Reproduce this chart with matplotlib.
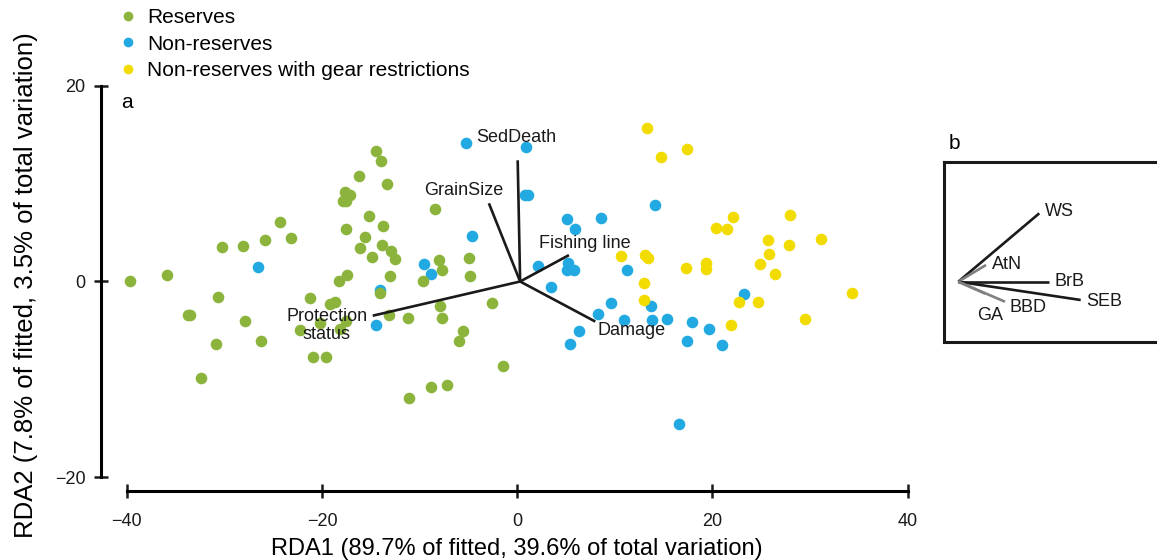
import matplotlib
matplotlib.use("Agg")
import matplotlib.pyplot as plt
from matplotlib.lines import Line2D

plt.rcParams['font.family'] = ['Liberation Sans', 'DejaVu Sans']

# ---------------- data ----------------
reserves_x = [-39.7, -35.9, -30.2, -28.1, -25.8, -24.3, -23.2, -30.6, -33.7, -33.5,
              -27.9, -30.9, -26.2, -32.4, -17.6, -17.1, -17.8, -17.5, -17.5, -18.3,
              -17.4, -21.2, -19.2, -18.7, -20.2, -22.2, -18.1, -20.9, -19.6, -14.5,
              -14.0, -16.2, -13.3, -8.4, -15.2, -13.7, -15.6, -13.9, -16.1, -12.9,
              -12.5, -14.9, -4.9, -4.8, -8.0, -7.7, -9.6, -13.0, -14.1, -13.1,
              -11.2, -7.9, -7.7, -2.6, -5.6, -6.0, -1.5, -8.8, -7.2, -11.1, -17.5]
reserves_y = [0.0, 0.7, 3.5, 3.6, 4.2, 6.1, 4.5, -1.6, -3.4, -3.4,
              -4.0, -6.4, -6.1, -9.9, 9.2, 8.8, 8.2, 8.2, 5.4, 0.0,
              0.7, -1.7, -2.3, -2.1, -4.2, -5.0, -4.9, -7.7, -7.7, 13.4,
              12.3, 10.8, 10.0, 7.4, 6.7, 5.7, 4.6, 3.7, 3.4, 3.1,
              2.3, 2.5, 2.4, 0.6, 2.2, 1.2, 0.1, 0.6, -1.2, -3.4,
              -3.7, -2.5, -3.7, -2.2, -5.1, -6.1, -8.6, -10.8, -10.6, -11.9, -4.0]

nonres_x = [-26.6, -5.2, 0.9, 0.8, 1.1, -4.6, -9.5, -8.8, -14.1, -14.5,
            5.1, 8.6, 5.9, 2.1, 5.2, 5.1, 5.8, 3.5, 11.2, 13.7,
            9.6, 8.3, 10.9, 13.8, 15.3, 6.3, 5.4, 17.4, 16.6, 14.1,
            23.2, 17.9, 19.6, 21.0]
nonres_y = [1.5, 14.2, 13.8, 8.8, 8.8, 4.7, 1.8, 0.8, -0.9, -4.5,
            6.4, 6.5, 5.4, 1.6, 1.9, 1.2, 1.2, -0.6, 1.2, -2.5,
            -2.2, -3.3, -3.9, -3.9, -3.8, -5.1, -6.4, -6.1, -14.6, 7.8,
            -1.3, -4.1, -4.9, -6.5]

gear_x = [13.3, 14.7, 17.4, 10.6, 13.1, 13.4, 13.0, 13.0, 17.3, 19.3,
          19.3, 20.4, 21.5, 22.1, 27.9, 25.7, 27.8, 31.1, 25.8, 24.9,
          26.4, 34.3, 22.7, 24.7, 29.5, 21.9]
gear_y = [15.7, 12.7, 13.6, 2.6, 2.7, 2.4, -0.2, -1.9, 1.35, 1.9,
          1.25, 5.5, 5.4, 6.6, 6.8, 4.2, 3.7, 4.3, 2.8, 1.8,
          0.8, -1.2, -2.1, -2.1, -3.8, -4.5]

# explanatory variables (panel a)
env_names = ["SedDeath", "GrainSize", "Fishing line", "Damage", "Protection\nstatus"]
env_x = [0.05, -2.9, 5.3, 8.0, -14.8]
env_y = [12.4, 8.0, 2.7, -4.1, -3.5]
env_lab_x = [-4.2, -9.55, 2.2, 8.2, -19.5]
env_lab_y = [14.75, 9.36, 3.84, -5.03, -4.5]
env_lab_ha = ["left", "left", "left", "left", "center"]
biplot_origin = (0.3, 0.0)

# species vectors (panel b)
sp_names = ["WS", "AtN", "BrB", "SEB", "BBD", "GA"]
sp_x = [8.1, 2.77, 9.07, 12.24, 4.67, 2.7]
sp_y = [6.84, 1.67, 0.0, -1.83, -2.0, -1.2]
sp_lab_x = [8.67, 3.34, 9.67, 12.84, 5.1, 1.84]
sp_lab_y = [7.07, 1.74, 0.0, -2.0, -2.6, -3.33]
sp_color = ["#1a1a1a", "#808080", "#1a1a1a", "#1a1a1a", "#808080", "#808080"]

groups = ["Reserves", "Non-reserves", "Non-reserves with gear restrictions"]
colors = ["#8cb43c", "#23a9e1", "#f2dc00"]

xticks = [-40, -20, 0, 20, 40]
yticks = [-20, 0, 20]
xlabel = "RDA1 (89.7% of fitted, 39.6% of total variation)"
ylabel = "RDA2 (7.8% of fitted, 3.5% of total variation)"

# ---------------- figure ----------------
W, H = 1157, 560
fig = plt.figure(figsize=(W / 100, H / 100), dpi=100)

left_px, right_px, top_px, bot_px = 101, 912, 80, 490.7
ax = fig.add_axes([left_px / W, (H - bot_px) / H, (right_px - left_px) / W, (bot_px - top_px) / H])
ux, x0 = 9.7625, 517.2
uy, y0 = 9.775, 281.5
ax.set_xlim((left_px - x0) / ux, (right_px - x0) / ux)
ax.set_ylim((y0 - bot_px) / uy, (y0 - top_px) / uy)

ax.scatter(nonres_x, nonres_y, s=70, color=colors[1], linewidths=0, zorder=2)
ax.scatter(gear_x, gear_y, s=70, color=colors[2], linewidths=0, zorder=2)
ax.scatter(reserves_x, reserves_y, s=70, color=colors[0], linewidths=0, zorder=2)

ox, oy = biplot_origin
for ex, ey in zip(env_x, env_y):
    ax.plot([ox, ex], [oy, ey], color="#1a1a1a", lw=1.9, solid_capstyle="butt", zorder=3)
for name, lx, ly, ha in zip(env_names, env_lab_x, env_lab_y, env_lab_ha):
    ax.text(lx, ly, name, ha=ha, va="center", fontsize=13, color="#1a1a1a",
            multialignment="center", linespacing=1.1, zorder=4)

for side in ["top", "right"]:
    ax.spines[side].set_visible(False)
ax.spines["bottom"].set_bounds(-40, 40)
ax.spines["left"].set_bounds(-20, 20)
ax.spines["bottom"].set_linewidth(2.2)
ax.spines["left"].set_linewidth(2.2)
ax.set_xticks(xticks)
ax.set_yticks(yticks)
ax.tick_params(axis="both", direction="inout", length=10, width=1.8, labelsize=13, colors="#1a1a1a")
ax.tick_params(axis="x", pad=11)
ax.tick_params(axis="y", pad=6)
ax.set_xlabel(xlabel, fontsize=17)
ax.xaxis.set_label_coords((x0 - left_px) / (right_px - left_px), -(538 - bot_px) / (bot_px - top_px))
ax.set_ylabel(ylabel, fontsize=18.5, labelpad=12)
ax.patch.set_visible(False)

ax.text(-40.6, 18.3, "a", fontsize=15, ha="left", va="center")

# legend
handles = [Line2D([], [], marker="o", linestyle="none", markersize=7,
                  markerfacecolor=c, markeredgewidth=0) for c in colors]
fig.legend(handles, groups, loc="upper left", bbox_to_anchor=(117.6 / W, 1 - 8 / H),
           frameon=False, fontsize=15, handlelength=1.0, handletextpad=0.4,
           labelspacing=0.36, borderpad=0, borderaxespad=0)

# inset b
in_l, in_r, in_t, in_b = 944, 1170, 162, 342
axb = fig.add_axes([in_l / W, (H - in_b) / H, (in_r - in_l) / W, (in_b - in_t) / H])
bo_x, bo_y = 958.3, 281.7
axb.set_xlim((in_l - bo_x) / 10, (in_r - bo_x) / 10)
axb.set_ylim((bo_y - in_b) / 10, (bo_y - in_t) / 10)
for name, vx, vy, c, lx, ly in zip(sp_names, sp_x, sp_y, sp_color, sp_lab_x, sp_lab_y):
    axb.plot([0, vx], [0, vy], color=c, lw=1.9, solid_capstyle="butt")
    axb.text(lx, ly, name, fontsize=13, ha="left", va="center", color="#1a1a1a")
axb.set_xticks([])
axb.set_yticks([])
for s in axb.spines.values():
    s.set_linewidth(2.2)
    s.set_color("#1a1a1a")
fig.text(948.3 / W, 1 - 143.3 / H, "b", fontsize=15, ha="left", va="center")

fig.savefig("out.png", dpi=100)
